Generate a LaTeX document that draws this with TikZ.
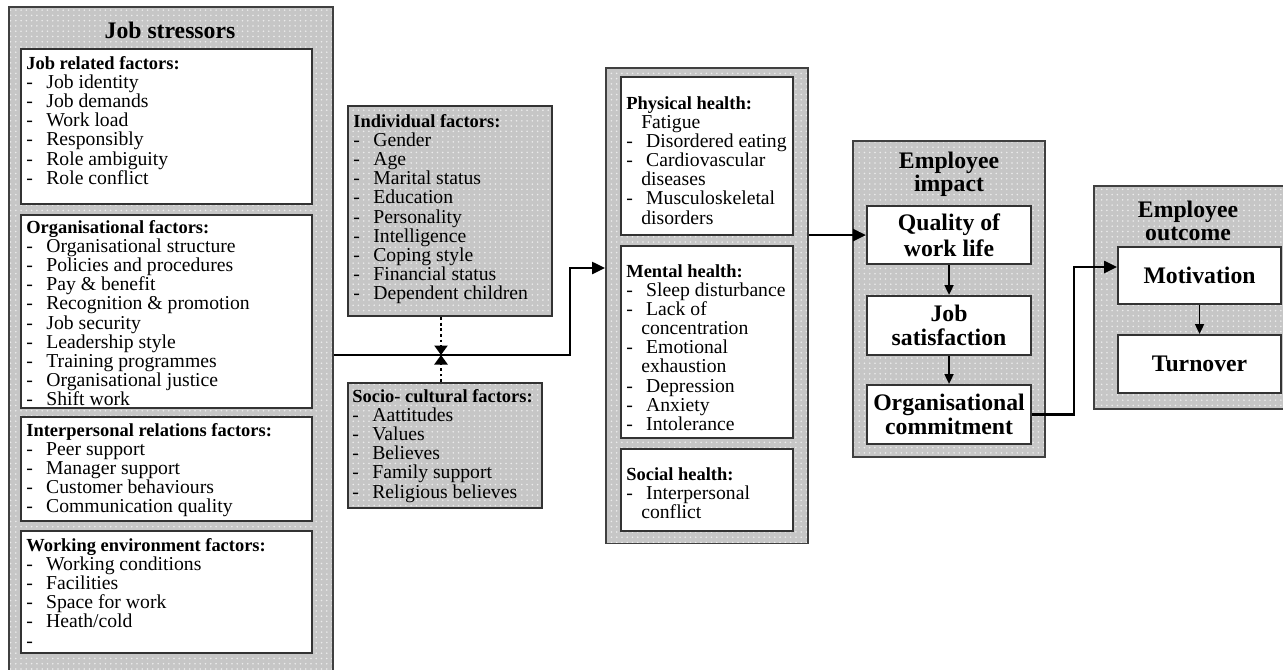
\documentclass[tikz,border=0pt]{standalone}
\usepackage{fontspec}
\setmainfont{Liberation Serif}
\usetikzlibrary{arrows.meta,positioning,patterns,calc}
\newcommand{\dsh}[1][11.4pt]{\makebox[#1][l]{-}}
\newcommand{\hdr}[1]{{\fontsize{10.5}{10.9}\selectfont\bfseries #1}}

\begin{document}
\begin{tikzpicture}[
    x=0.02cm, y=-0.02cm,
    panel/.style={draw=black!75, line width=0.9pt, preaction={fill=gray!45}, pattern=dots, pattern color=white!85!gray, anchor=north west, inner sep=0pt},
    whitebox/.style={draw=black!80, line width=1.2pt, fill=white, anchor=north west, inner sep=0pt},
    greybox/.style={panel, draw=black!80, line width=1.2pt},
    list/.style={anchor=north west, inner sep=0pt, align=left, font=\fontsize{11.2}{10.9}\selectfont},
    title/.style={inner sep=0pt, align=center, font=\bfseries\fontsize{13.5}{13.2}\selectfont},
    arrow/.style={line width=1.4pt, -{Triangle[length=2.6mm,width=2.4mm]}},
    smallarrow/.style={line width=1pt, -{Triangle[length=2mm,width=1.8mm]}},
    dotarrow/.style={line width=1.6pt, dash pattern=on 1.6pt off 1.6pt, -{Triangle[length=1.9mm,width=2.6mm]}}
]
\useasboundingbox (0,0) rectangle (1283,669);

% Job stressors
\node[panel, minimum width=6.48cm, minimum height=13.32cm] (stressors) at (8,6) {};
\node[title] (stressorstitle) at (170,30) {Job stressors};
\node[whitebox, minimum width=5.82cm, minimum height=3.10cm] (jobrel) at (20,48) {};
\node[whitebox, minimum width=5.82cm, minimum height=3.86cm] (orgfac) at (20,214) {};
\node[whitebox, minimum width=5.82cm, minimum height=2.08cm] (interp) at (20,416) {};
\node[whitebox, minimum width=5.82cm, minimum height=2.44cm] (workenv) at (20,530) {};

\node[list] (jobreltext) at (26,56) {\hdr{Job related factors:}\\
  \dsh Job identity\\ \dsh Job demands\\ \dsh Work load\\ \dsh Responsibly\\
  \dsh Role ambiguity\\ \dsh Role conflict};
\node[list] (orgfactext) at (26,220) {\hdr{Organisational factors:}\\
  \dsh Organisational structure\\ \dsh Policies and procedures\\ \dsh Pay \& benefit\\
  \dsh Recognition \& promotion\\ \dsh Job security\\ \dsh Leadership style\\
  \dsh Training programmes\\ \dsh Organisational justice\\ \dsh Shift work};
\node[list] (interptext) at (26,423) {\hdr{Interpersonal relations factors:}\\
  \dsh[8.5pt] Peer support\\ \dsh[8.5pt] Manager support\\ \dsh[8.5pt] Customer behaviours\\
  \dsh[8.5pt] Communication quality};
\node[list] (workenvtext) at (26,538) {\hdr{Working environment factors:}\\
  \dsh[8.5pt] Working conditions\\ \dsh[8.5pt] Facilities\\ \dsh[8.5pt] Space for work\\
  \dsh[8.5pt] Heath/cold\\ \dsh[8.5pt]};

% Individual and socio-cultural factors
\node[greybox, minimum width=4.08cm, minimum height=4.20cm] (indiv) at (347,105) {};
\node[list] (indivtext) at (353,114) {\hdr{Individual factors:}\\
  \dsh Gender\\ \dsh Age\\ \dsh Marital status\\ \dsh Education\\ \dsh Personality\\
  \dsh Intelligence\\ \dsh Coping style\\ \dsh Financial status\\ \dsh Dependent children};
\node[greybox, minimum width=3.88cm, minimum height=2.50cm] (socio) at (347,382) {};
\node[list] (sociotext) at (352,389) {\hdr{Socio- cultural factors:}\\
  \dsh Aattitudes\\ \dsh Values\\ \dsh Believes\\ \dsh Family support\\ \dsh Religious believes};

% Health
\node[panel, minimum width=4.04cm, minimum height=9.52cm] (health) at (605,67) {};
\node[whitebox, minimum width=3.44cm, minimum height=3.16cm] (physical) at (620,76) {};
\node[whitebox, minimum width=3.44cm, minimum height=3.84cm] (mental) at (620,245) {};
\node[whitebox, minimum width=3.44cm, minimum height=1.64cm] (social) at (620,448) {};
\node[list] (physicaltext) at (626,96) {\hdr{Physical health:}\\
  \makebox[8.5pt]{}Fatigue\\ \dsh[8.5pt] Disordered eating\\ \dsh[8.5pt] Cardiovascular\\
  \makebox[8.5pt]{}diseases\\ \dsh[8.5pt] Musculoskeletal\\ \makebox[8.5pt]{}disorders};
\node[list] (mentaltext) at (626,264) {\hdr{Mental health:}\\
  \dsh[8.5pt] Sleep disturbance\\ \dsh[8.5pt] Lack of\\ \makebox[8.5pt]{}concentration\\
  \dsh[8.5pt] Emotional\\ \makebox[8.5pt]{}exhaustion\\ \dsh[8.5pt] Depression\\
  \dsh[8.5pt] Anxiety\\ \dsh[8.5pt] Intolerance};
\node[list] (socialtext) at (626,467) {\hdr{Social health:}\\
  \dsh[8.5pt] Interpersonal\\ \makebox[8.5pt]{}conflict};

% Employee impact
\node[panel, minimum width=3.84cm, minimum height=6.32cm] (impact) at (852,140) {};
\node[title] (impacttitle) at (949,174) {Employee\\impact};
\node[whitebox, minimum width=3.28cm, minimum height=1.16cm, font=\bfseries\fontsize{13.5}{14.5}\selectfont, align=center] (qwl) at (866,205) {Quality of\\work life};
\node[whitebox, minimum width=3.28cm, minimum height=1.18cm, font=\bfseries\fontsize{13.5}{14}\selectfont, align=center] (jobsat) at (866,295) {Job\\satisfaction};
\node[whitebox, minimum width=3.28cm, minimum height=1.18cm, font=\bfseries\fontsize{13.5}{14}\selectfont, align=center] (orgcom) at (866,384) {Organisational\\commitment};

% Employee outcome
\node[panel, minimum width=3.90cm, minimum height=4.46cm] (outcome) at (1093,185) {};
\node[title] (outcometitle) at (1188,221) {Employee\\outcome};
\node[whitebox, minimum width=3.26cm, minimum height=1.14cm, font=\bfseries\fontsize{13.5}{14}\selectfont] (motiv) at (1117,246) {Motivation};
\node[whitebox, minimum width=3.26cm, minimum height=1.16cm, font=\bfseries\fontsize{13.5}{14}\selectfont] (turnover) at (1117,334) {Turnover};

% Connections
\coordinate (jn) at (441,355);
\coordinate (bend) at (570,268);
\coordinate (riser) at (1074,267);
\draw[arrow] (stressors.east |- jn) -- (bend |- jn) -- (bend) -- (health.west |- bend);
\draw[dotarrow] (indiv.south -| jn) -- (jn);
\draw[dotarrow] (socio.north -| jn) -- (jn);
\draw[arrow] (health.east |- qwl.west) -- (qwl.west);
\draw[smallarrow] (qwl.south) -- (jobsat.north);
\draw[smallarrow] (jobsat.south) -- (orgcom.north);
\draw[arrow] (orgcom.east) -- (riser |- orgcom.east) -- (riser) -- (motiv.west |- riser);
\draw[smallarrow] (motiv.south) -- (turnover.north);

\end{tikzpicture}
\end{document}
